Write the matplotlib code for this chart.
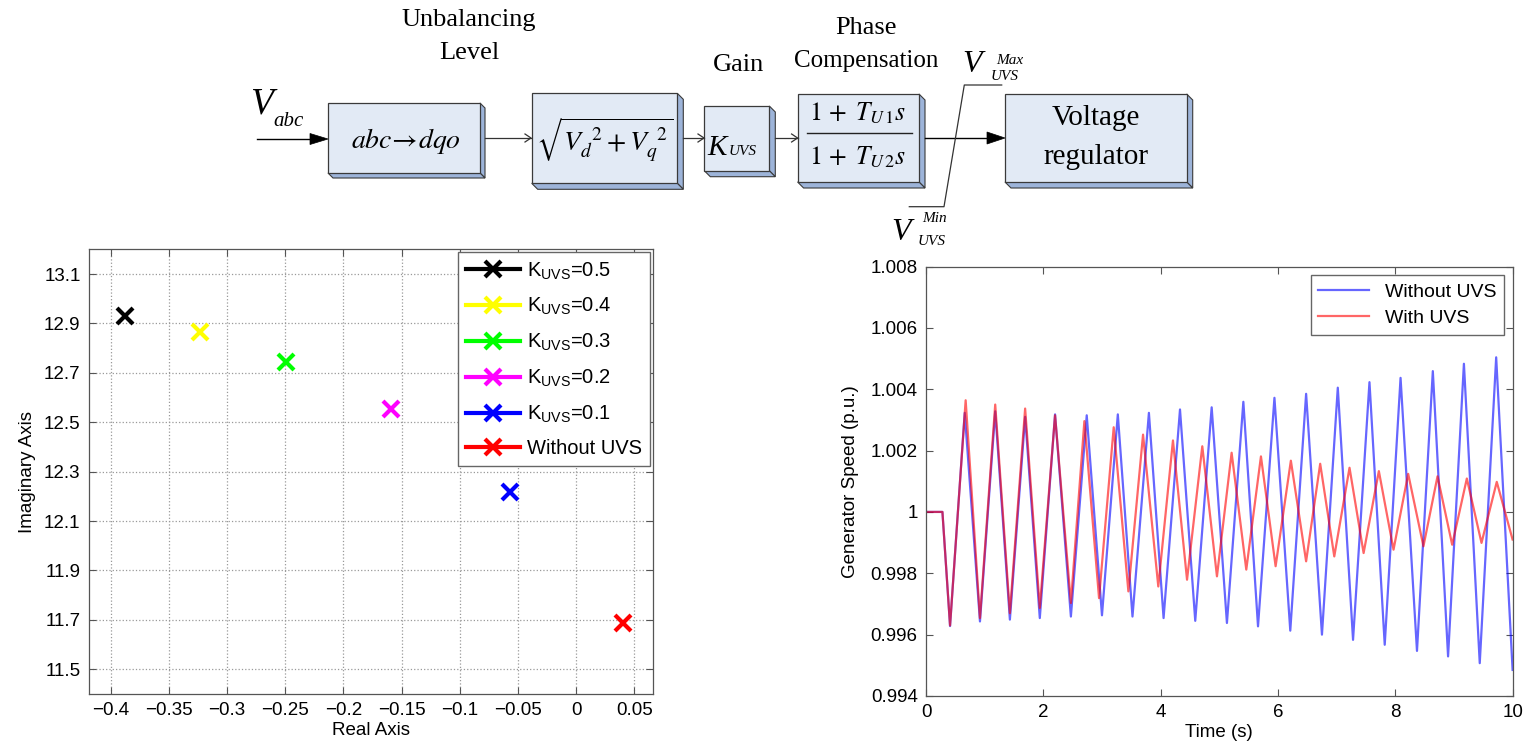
import matplotlib
matplotlib.use("Agg")
import numpy as np
import matplotlib.pyplot as plt
from matplotlib.patches import Polygon, Rectangle
from matplotlib.ticker import FuncFormatter

plt.rcParams['font.family'] = ['Liberation Sans', 'DejaVu Sans']
plt.rcParams['mathtext.fontset'] = 'custom'
plt.rcParams['mathtext.rm'] = 'Liberation Sans'
plt.rcParams['mathtext.it'] = 'Liberation Sans:italic'

# root locus: dominant eigenvalue for each gain
locus_labels = [r'K$_{\mathrm{UVS}}$=0.5', r'K$_{\mathrm{UVS}}$=0.4', r'K$_{\mathrm{UVS}}$=0.3',
                r'K$_{\mathrm{UVS}}$=0.2', r'K$_{\mathrm{UVS}}$=0.1', 'Without UVS']
locus_real = [-0.388, -0.323, -0.249, -0.159, -0.057, 0.040]
locus_imag = [12.93, 12.864, 12.742, 12.553, 12.219, 11.687]
locus_colors = ['#000000', '#ffff00', '#00ff00', '#ff00ff', '#0000ff', '#ff0000']
real_ticks = [-0.4, -0.35, -0.3, -0.25, -0.2, -0.15, -0.1, -0.05, 0, 0.05]
imag_ticks = [11.5, 11.7, 11.9, 12.1, 12.3, 12.5, 12.7, 12.9, 13.1]

# generator speed, extrema
t_without = [0, 0.28, 0.41, 0.66, 0.92, 1.18, 1.43, 1.69, 1.94, 2.20, 2.47, 2.74, 3.00, 3.27,
             3.52, 3.80, 4.05, 4.33, 4.59, 4.87, 5.13, 5.41, 5.66, 5.94, 6.21, 6.48, 6.75, 7.02,
             7.28, 7.56, 7.82, 8.09, 8.37, 8.64, 8.90, 9.17, 9.44, 9.72, 10.0]
w_without = [1.0, 1.0, 0.99628, 1.00323, 0.99643, 1.00328, 0.99649, 1.00310, 0.99654, 1.00318,
             0.99659, 1.00315, 0.99663, 1.00318, 0.99659, 1.00323, 0.99654, 1.00334, 0.99645,
             1.00341, 0.99638, 1.00359, 0.99627, 1.00372, 0.99613, 1.00385, 0.99600, 1.00405,
             0.99583, 1.00423, 0.99567, 1.00437, 0.99547, 1.00459, 0.99529, 1.00483, 0.99507,
             1.00504, 0.99485]
t_with = [0, 0.28, 0.41, 0.676, 0.92, 1.18, 1.43, 1.69, 1.94, 2.20, 2.47, 2.70, 2.95, 3.20,
          3.45, 3.70, 3.96, 4.21, 4.45, 4.71, 4.96, 5.21, 5.46, 5.71, 5.96, 6.22, 6.48, 6.72,
          6.96, 7.22, 7.46, 7.72, 7.97, 8.22, 8.48, 8.72, 8.97, 9.22, 9.47, 9.73, 10.0]
w_with = [1.0, 1.0, 0.99630, 1.00364, 0.99654, 1.00350, 0.99670, 1.00337, 0.99687, 1.00315,
          0.99703, 1.00296, 0.99719, 1.00276, 0.99741, 1.00252, 0.99757, 1.00233, 0.99779,
          1.00214, 0.99790, 1.00193, 0.99812, 1.00181, 0.99823, 1.00167, 0.99839, 1.00157,
          0.99855, 1.00144, 0.99866, 1.00133, 0.99877, 1.00124, 0.99888, 1.00116, 0.99893,
          1.00109, 0.99899, 1.00098, 0.99910]
time_ticks = [0, 2, 4, 6, 8, 10]
speed_ticks = [0.994, 0.996, 0.998, 1.0, 1.002, 1.004, 1.006, 1.008]

W, H = 1527, 745
fig = plt.figure(figsize=(W / 100, H / 100), dpi=100)

# ---------------- block diagram (pixel coordinates) ----------------
diag = fig.add_axes([0, 0, 1, 1])
diag.set_xlim(0, W)
diag.set_ylim(H, 0)
diag.axis('off')

FRONT = '#e2eaf5'
SIDE = '#9db4d9'
EDGE = '#3a3a3a'
SERIF = 'Liberation Serif'


def block(x0, y0, x1, y1, d=6):
    diag.add_patch(Polygon([(x1, y0), (x1 + d, y0 + d), (x1 + d, y1 + d), (x1, y1)],
                           closed=True, fc=SIDE, ec=EDGE, lw=0.8))
    diag.add_patch(Polygon([(x0, y1), (x1, y1), (x1 + d, y1 + d), (x0 + d, y1 + d)],
                           closed=True, fc=SIDE, ec=EDGE, lw=0.8))
    diag.add_patch(Rectangle((x0, y0), x1 - x0, y1 - y0, fc=FRONT, ec=EDGE, lw=0.9))


def arrow_filled(x0, x1, y, hl=18, hw=5.5):
    diag.plot([x0, x1 - hl], [y, y], color='k', lw=1)
    diag.add_patch(Polygon([(x1 - hl, y - hw), (x1, y), (x1 - hl, y + hw)],
                           closed=True, fc='k', ec='k', lw=0.5))


def arrow_open(x0, x1, y, hl=6, hw=4):
    diag.plot([x0, x1], [y, y], color='#333333', lw=0.9)
    diag.plot([x1 - hl, x1, x1 - hl], [y - hw, y, y + hw], color='#333333', lw=0.9)


def stext(x, y, s, size, **kw):
    kw.setdefault('ha', 'center')
    kw.setdefault('va', 'center')
    diag.text(x, y, s, fontsize=size, family=SERIF, math_fontfamily='stix', **kw)


arrow_filled(257, 328, 139)
block(328, 103, 480, 173, 5)
arrow_open(485, 531, 138)
block(531.7, 93.3, 677.3, 183.3, 6)
arrow_open(683, 704, 138)
block(704.3, 106, 769.3, 170.7, 6)
arrow_open(775, 797.6, 138)
block(797.6, 94, 919, 182, 6)
arrow_filled(925, 1005, 138, hl=18, hw=6)
block(1005, 94, 1186.7, 182, 6)
# limiter
diag.plot([1001.7, 964.3, 944, 909.3], [85, 85, 206.7, 206.7], color='#333333', lw=0.9)

stext(469, 20, 'Unbalancing', 19)
stext(469, 53, 'Level', 19)
stext(739, 65, 'Gain', 19)
stext(866, 28, 'Phase', 19)
stext(866, 61, 'Compensation', 18)

stext(250, 113, 'V', 27, ha='left', va='baseline', style='italic')
stext(273, 126, 'abc', 15, ha='left', va='baseline', style='italic')
stext(406, 141, r'$abc\!\rightarrow\!dqo$', 20)
stext(605, 140, r'$\sqrt{V_d^{\;\;2}+V_q^{\;\;2}}$', 20)
stext(707, 155, 'K', 21, ha='left', va='baseline', style='italic')
stext(729, 155, 'UVS', 11, ha='left', va='baseline', style='italic')
stext(858, 113, r'$1\,+\;T_{U\,1}s$', 18.5)
diag.plot([807, 912], [133, 133], color='#222222', lw=1)
stext(858, 157, r'$1\,+\;T_{U\,2}s$', 18.5)
stext(1096, 118, 'Voltage', 21)
stext(1096, 157, 'regulator', 21)

stext(962, 72, 'V', 23, ha='left', va='baseline', style='italic')
stext(996, 64, 'Max', 11, ha='left', va='baseline', style='italic')
stext(991, 80, 'UVS', 11, ha='left', va='baseline', style='italic')
stext(891, 240, 'V', 23, ha='left', va='baseline', style='italic')
stext(922, 222, 'Min', 11, ha='left', va='baseline', style='italic')
stext(918, 245, 'UVS', 11, ha='left', va='baseline', style='italic')


def fmt(v, pos):
    return f'{round(v, 4):g}'.replace('-', '\u2212')


def matlab_axes(ax):
    ax.tick_params(direction='in', top=True, right=True, length=5, width=0.8,
                   color='#555555', labelsize=13.5, pad=6)
    for sp in ax.spines.values():
        sp.set_color('#555555')
        sp.set_linewidth(0.9)


# ---------------- root locus ----------------
ax1 = fig.add_axes([88.9 / W, 1 - 694 / H, (652.6 - 88.9) / W, (694 - 249.3) / H])
for lab, re_, im_, c in zip(locus_labels, locus_real, locus_imag, locus_colors):
    ax1.plot([re_], [im_], marker='x', ls='-', lw=3, ms=11, mew=3, color=c, label=lab)
ax1.set_xlim(-0.4186, 0.0656)
ax1.set_ylim(11.4, 13.2)
ax1.set_xticks(real_ticks)
ax1.set_yticks(imag_ticks)
ax1.xaxis.set_major_formatter(FuncFormatter(fmt))
ax1.yaxis.set_major_formatter(FuncFormatter(fmt))
ax1.grid(True, ls=':', color='#999999', lw=0.9)
matlab_axes(ax1)
ax1.set_xlabel('Real Axis', fontsize=13.5, labelpad=2)
ax1.set_ylabel('Imaginary Axis', fontsize=13.5, labelpad=6)
ax1.legend(loc='upper right', bbox_to_anchor=(1, 1), borderaxespad=0.15, fancybox=False,
           edgecolor='#666666', framealpha=1, fontsize=14.5, handlelength=2.7,
           labelspacing=0.72, borderpad=0.4, handletextpad=0.3)

# ---------------- generator speed ----------------
ax2 = fig.add_axes([926 / W, 1 - 696 / H, (1512.6 - 926) / W, (696 - 266.5) / H])
ax2.plot(t_without, w_without, color='#0000ff', lw=1.6, alpha=0.6, label='Without UVS')
ax2.plot(t_with, w_with, color='#ff0000', lw=1.6, alpha=0.6, label='With UVS')
ax2.set_xlim(0, 10)
ax2.set_ylim(0.994, 1.008)
ax2.set_xticks(time_ticks)
ax2.set_yticks(speed_ticks)
ax2.yaxis.set_major_formatter(FuncFormatter(fmt))
matlab_axes(ax2)
ax2.set_xlabel('Time (s)', fontsize=13.5, labelpad=2)
ax2.set_ylabel('Generator Speed (p.u.)', fontsize=13.5, labelpad=8)
ax2.legend(loc='upper right', borderaxespad=0.45, fancybox=False, edgecolor='#666666',
           framealpha=1, fontsize=14, handlelength=2.6, labelspacing=0.45, borderpad=0.4)

fig.savefig('out.png', dpi=100)
